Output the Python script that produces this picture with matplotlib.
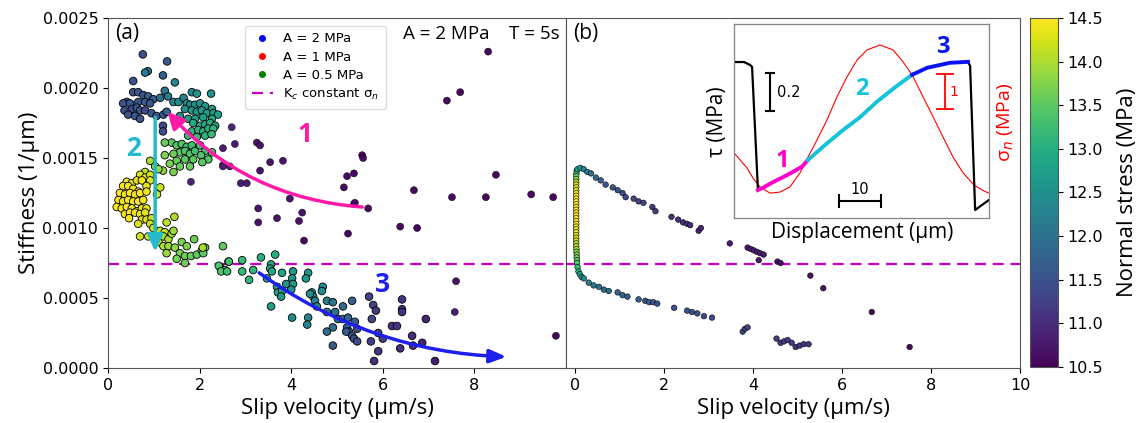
import matplotlib
matplotlib.use("Agg")
import numpy as np
import matplotlib.pyplot as plt
from matplotlib.lines import Line2D
from matplotlib.colors import Normalize
from matplotlib.cm import ScalarMappable

# panel (a): (slip velocity um/s, stiffness 1/um, normal stress MPa)
a_far = [(8.30, 0.00226, 10.6), (7.40, 0.00191, 10.6), (7.69, 0.00197, 10.6), (5.55, 0.00152, 10.6),
         (5.57, 0.00150, 10.6), (5.22, 0.00137, 10.6), (5.37, 0.00139, 10.6), (5.15, 0.00129, 10.6),
         (6.68, 0.00127, 10.6), (8.47, 0.00138, 10.6), (7.51, 0.00122, 10.6), (8.25, 0.00122, 10.6),
         (9.24, 0.00124, 10.6), (9.72, 0.00122, 10.6), (5.37, 0.00117, 10.6), (5.68, 0.00114, 10.6),
         (6.38, 0.00101, 10.6), (6.75, 0.00100, 10.6), (5.24, 0.00096, 10.6), (4.28, 0.00091, 10.6),
         (3.28, 0.00114, 10.7), (3.28, 0.00104, 10.7), (3.69, 0.00107, 10.7), (3.97, 0.00121, 10.7),
         (4.17, 0.00105, 10.7), (4.24, 0.00111, 10.7), (5.39, 0.00118, 10.6), (7.60, 0.00062, 10.7),
         (7.57, 0.00040, 10.8), (9.78, 0.00023, 10.6), (2.70, 0.00172, 10.9), (2.51, 0.00157, 10.8),
         (2.77, 0.00160, 10.8), (3.25, 0.00161, 10.7), (3.32, 0.00159, 10.7), (3.54, 0.00147, 10.7),
         (3.82, 0.00148, 10.7), (3.32, 0.00141, 10.7), (2.51, 0.00145, 10.8), (2.66, 0.00144, 10.8),
         (2.90, 0.00132, 10.8), (3.03, 0.00132, 10.8), (1.81, 0.00133, 10.9), (2.51, 0.00144, 10.8)]

a_navy = [(0.76, 0.00224, 11.5), (1.29, 0.00219, 11.6), (0.87, 0.00212, 12.0), (0.81, 0.00211, 12.1),
          (1.20, 0.00209, 11.7), (0.55, 0.00205, 11.5), (1.46, 0.00204, 12.3),
          (0.55, 0.00197, 11.5), (0.66, 0.00197, 11.6), (0.77, 0.00195, 11.5), (0.88, 0.00194, 11.7),
          (0.99, 0.00192, 11.6), (0.41, 0.00190, 11.4), (0.33, 0.00189, 11.5), (0.48, 0.00189, 11.6),
          (0.66, 0.00190, 11.5), (0.81, 0.00190, 11.7), (0.92, 0.00189, 11.6), (0.36, 0.00184, 11.5),
          (0.52, 0.00185, 11.4), (0.63, 0.00186, 11.6), (0.70, 0.00184, 11.5), (0.81, 0.00184, 11.4),
          (0.95, 0.00182, 11.6), (1.06, 0.00180, 11.5), (1.21, 0.00181, 11.6), (1.28, 0.00183, 11.8),
          (0.44, 0.00181, 11.5), (0.59, 0.00180, 11.6), (0.70, 0.00178, 11.5), (1.14, 0.00193, 12.0),
          (1.24, 0.00198, 12.1), (1.31, 0.00194, 12.2), (1.20, 0.00173, 11.4), (1.20, 0.00169, 11.4)]

a_teal = [(1.43, 0.00190, 12.3), (1.54, 0.00190, 12.4), (1.65, 0.00193, 12.3), (1.72, 0.00189, 12.5),
          (1.83, 0.00197, 12.4), (1.94, 0.00196, 12.6), (1.79, 0.00188, 12.4), (1.90, 0.00188, 12.5),
          (2.01, 0.00189, 12.6), (2.12, 0.00187, 12.7), (2.25, 0.00196, 12.5), (2.27, 0.00185, 12.7),
          (1.68, 0.00185, 12.5), (1.83, 0.00184, 12.6), (1.94, 0.00183, 12.6), (2.05, 0.00184, 12.7),
          (2.16, 0.00182, 12.8), (2.30, 0.00182, 12.7), (2.40, 0.00181, 12.8), (1.57, 0.00180, 12.5),
          (1.75, 0.00178, 12.7), (1.90, 0.00178, 12.8), (2.08, 0.00179, 12.8), (2.27, 0.00178, 12.9),
          (1.86, 0.00175, 12.9), (2.01, 0.00173, 13.0), (2.12, 0.00174, 12.9), (2.23, 0.00175, 13.0),
          (2.34, 0.00173, 12.9), (1.83, 0.00169, 13.1), (1.97, 0.00170, 13.0), (2.08, 0.00169, 13.1),
          (2.19, 0.00171, 13.0), (2.30, 0.00171, 13.1), (1.75, 0.00166, 13.2), (1.94, 0.00165, 13.2),
          (2.12, 0.00166, 13.1), (2.26, 0.00167, 13.2)]

a_green = [(1.39, 0.00161, 13.5), (1.50, 0.00159, 13.4), (1.61, 0.00160, 13.4), (1.72, 0.00158, 13.3),
           (1.83, 0.00159, 13.3), (1.57, 0.00154, 13.5), (1.68, 0.00155, 13.4), (1.43, 0.00153, 13.6),
           (1.79, 0.00153, 13.4), (1.90, 0.00155, 13.3), (2.01, 0.00159, 13.3), (2.12, 0.00155, 13.3),
           (1.24, 0.00152, 13.7), (1.50, 0.00148, 13.6), (1.68, 0.00149, 13.5), (1.86, 0.00149, 13.5),
           (2.03, 0.00152, 13.4), (2.19, 0.00149, 13.4), (0.92, 0.00148, 14.0), (1.03, 0.00144, 13.9),
           (1.35, 0.00146, 13.7), (1.57, 0.00144, 13.6), (1.79, 0.00144, 13.6), (2.06, 0.00147, 13.5),
           (1.20, 0.00141, 13.8), (0.81, 0.00140, 14.1), (1.10, 0.00142, 13.9), (1.43, 0.00140, 13.7),
           (1.24, 0.00161, 13.6), (2.27, 0.00154, 13.4)]

a_yellow = [(0.70, 0.00138, 14.3), (0.81, 0.00136, 14.3), (0.92, 0.00138, 14.2), (0.41, 0.00133, 14.4),
            (0.52, 0.00132, 14.4), (0.63, 0.00134, 14.3), (0.74, 0.00134, 14.4), (0.92, 0.00134, 14.3),
            (0.33, 0.00130, 14.5), (0.44, 0.00130, 14.4), (0.55, 0.00128, 14.4), (0.66, 0.00126, 14.5),
            (0.84, 0.00130, 14.3), (0.26, 0.00125, 14.5), (0.37, 0.00124, 14.4), (0.48, 0.00125, 14.5),
            (0.59, 0.00124, 14.4), (0.70, 0.00125, 14.5), (0.84, 0.00126, 14.4), (0.23, 0.00120, 14.5),
            (0.33, 0.00119, 14.4), (0.44, 0.00120, 14.5), (0.55, 0.00119, 14.4), (0.66, 0.00119, 14.5),
            (0.77, 0.00120, 14.4), (0.19, 0.00115, 14.5), (0.30, 0.00114, 14.4), (0.41, 0.00115, 14.5),
            (0.52, 0.00114, 14.4), (0.63, 0.00112, 14.5), (0.74, 0.00114, 14.4), (0.84, 0.00114, 14.3),
            (0.37, 0.00110, 14.4), (0.48, 0.00111, 14.5), (0.59, 0.00111, 14.4), (0.70, 0.00110, 14.4),
            (0.81, 0.00111, 14.3), (0.46, 0.00107, 14.4), (0.74, 0.00106, 14.3), (0.84, 0.00106, 14.3),
            (0.95, 0.00107, 14.2), (0.66, 0.00103, 14.3), (0.92, 0.00103, 14.2), (0.70, 0.00094, 14.2),
            (0.88, 0.00094, 14.2), (1.14, 0.00129, 14.2), (1.07, 0.00124, 14.2), (0.99, 0.00100, 14.2),
            (1.45, 0.00108, 14.0), (1.28, 0.00104, 14.1)]

a_transition = [(1.14, 0.00098, 14.1), (1.24, 0.00097, 14.1), (1.21, 0.00094, 14.0), (1.32, 0.00092, 14.0),
                (1.39, 0.00096, 14.0), (1.43, 0.00098, 13.9), (1.10, 0.00090, 14.1), (1.21, 0.00087, 14.0),
                (1.32, 0.00087, 13.9), (1.28, 0.00082, 13.9), (1.46, 0.00086, 13.8), (1.61, 0.00090, 13.7),
                (1.72, 0.00087, 13.7), (1.88, 0.00092, 13.6), (1.57, 0.00082, 13.7), (1.68, 0.00080, 13.6),
                (1.50, 0.00078, 13.7), (1.81, 0.00080, 13.6), (1.94, 0.00081, 13.5), (2.05, 0.00084, 13.5),
                (2.12, 0.00086, 13.5), (2.08, 0.00082, 13.5), (2.63, 0.00076, 13.3), (2.45, 0.00072, 13.4),
                (2.55, 0.00070, 13.3), (1.68, 0.00075, 13.6)]

a_lower = [(2.07, 0.00086, 14.0), (2.51, 0.00087, 13.5), (2.42, 0.00073, 13.4), (2.47, 0.00069, 13.4),
           (2.60, 0.00069, 13.3), (2.64, 0.00076, 13.3), (2.93, 0.00077, 13.2), (2.93, 0.00069, 13.2),
           (3.08, 0.00063, 13.1), (3.17, 0.00070, 13.1), (3.34, 0.00079, 13.0), (3.65, 0.00081, 13.0),
           (3.56, 0.00074, 12.9), (3.54, 0.00071, 12.9), (3.58, 0.00069, 12.9), (3.47, 0.00064, 12.9),
           (3.69, 0.00058, 12.8), (3.71, 0.00054, 12.8), (3.80, 0.00055, 12.7), (3.78, 0.00051, 12.7),
           (3.56, 0.00044, 12.8), (3.80, 0.00068, 12.8), (3.89, 0.00060, 12.7), (4.04, 0.00069, 12.7),
           (4.02, 0.00064, 12.6), (4.04, 0.00060, 12.6), (4.00, 0.00056, 12.6), (4.02, 0.00036, 12.4),
           (4.37, 0.00068, 12.6), (4.32, 0.00064, 12.6), (4.45, 0.00054, 12.4), (4.48, 0.00051, 12.4),
           (4.52, 0.00048, 12.3), (4.56, 0.00044, 12.3), (4.41, 0.00053, 12.4), (4.69, 0.00058, 12.4),
           (4.67, 0.00055, 12.4), (4.37, 0.00036, 12.3), (4.35, 0.00031, 12.3), (4.78, 0.00048, 12.2),
           (4.78, 0.00040, 12.1), (4.91, 0.00047, 12.1), (4.96, 0.00040, 12.0), (4.78, 0.00026, 11.9),
           (4.91, 0.00029, 11.9), (4.91, 0.00016, 11.6), (5.02, 0.00035, 11.9), (5.13, 0.00035, 11.8),
           (5.24, 0.00036, 11.8), (5.33, 0.00048, 11.7), (5.13, 0.00044, 11.9), (5.22, 0.00029, 11.7),
           (5.26, 0.00026, 11.6), (5.20, 0.00026, 11.6), (5.33, 0.00023, 11.5), (5.37, 0.00021, 11.5),
           (5.44, 0.00019, 11.4), (5.39, 0.00033, 11.6), (5.44, 0.00028, 11.5),
           (5.70, 0.00051, 11.3), (5.79, 0.00045, 11.3), (5.85, 0.00041, 11.2), (5.76, 0.00035, 11.3),
           (5.74, 0.00019, 11.2), (5.90, 0.00025, 11.2), (6.00, 0.00021, 11.2), (5.90, 0.00012, 11.1),
           (5.81, 0.00005, 11.0), (6.20, 0.00030, 11.1), (6.31, 0.00030, 11.1), (6.42, 0.00049, 11.1),
           (6.42, 0.00042, 11.1), (6.42, 0.00040, 11.1), (6.38, 0.00014, 11.0), (6.64, 0.00023, 11.0),
           (6.66, 0.00016, 11.0), (6.86, 0.00018, 10.9), (6.94, 0.00035, 10.9), (7.14, 0.00005, 10.8)]

# panel (b): model run, same quantities
b_column_k = [0.00141, 0.00139, 0.00137, 0.00135, 0.00133, 0.00131, 0.00129, 0.00127, 0.00125,
              0.00123, 0.00121, 0.00119, 0.00117, 0.00115, 0.00113, 0.00111, 0.00109, 0.00107,
              0.00105, 0.00103, 0.00101, 0.00099, 0.00097, 0.00095, 0.00093, 0.00091, 0.00089,
              0.00087, 0.00085, 0.00083, 0.00081, 0.00079, 0.00077, 0.00075]
b_column_v = [0.04, 0.035, 0.03, 0.03, 0.03, 0.03, 0.03, 0.03, 0.03, 0.03, 0.03, 0.03, 0.03, 0.03,
              0.03, 0.03, 0.03, 0.03, 0.03, 0.03, 0.03, 0.03, 0.03, 0.03, 0.03, 0.03, 0.03, 0.03,
              0.035, 0.035, 0.04, 0.04, 0.045, 0.05]
b_column_sn = [12.9, 13.2, 13.5, 13.8, 14.0, 14.2, 14.3, 14.4, 14.4, 14.5, 14.5, 14.5, 14.5, 14.5,
               14.5, 14.5, 14.5, 14.5, 14.5, 14.5, 14.4, 14.4, 14.4, 14.3, 14.3, 14.2, 14.1, 14.0,
               13.9, 13.8, 13.7, 13.6, 13.5, 13.4]

b_upper = [(0.06, 0.00142, 12.9), (0.12, 0.00143, 12.6), (0.20, 0.00142, 12.3), (0.28, 0.00140, 12.1),
           (0.36, 0.00139, 11.9), (0.47, 0.00136, 11.8), (0.58, 0.00134, 11.7), (0.69, 0.00131, 11.6),
           (0.85, 0.00129, 11.5), (0.96, 0.00127, 11.5), (1.07, 0.00125, 11.4), (1.14, 0.00122, 11.4),
           (1.32, 0.00121, 11.3), (1.43, 0.00119, 11.3), (1.54, 0.00118, 11.3), (1.74, 0.00115, 11.2),
           (1.81, 0.00112, 11.2), (2.17, 0.00108, 11.1), (2.32, 0.00106, 11.0), (2.43, 0.00104, 11.0),
           (2.52, 0.00103, 11.0), (2.59, 0.00102, 11.0), (2.78, 0.00098, 10.9), (2.83, 0.00100, 10.9),
           (3.48, 0.00089, 10.8), (3.88, 0.00086, 10.8), (3.95, 0.00085, 10.8), (4.02, 0.00084, 10.8),
           (4.09, 0.00083, 10.8), (4.16, 0.00082, 10.8), (4.24, 0.00081, 10.8), (4.13, 0.00077, 10.8),
           (4.55, 0.00076, 10.7), (4.62, 0.00075, 10.7), (5.29, 0.00066, 10.7), (5.58, 0.00057, 10.7),
           (6.67, 0.00040, 10.6), (7.52, 0.00015, 10.6)]

b_lower = [(0.06, 0.00072, 13.2), (0.08, 0.00069, 13.0), (0.11, 0.00067, 12.8), (0.15, 0.00065, 12.6),
           (0.20, 0.00064, 12.4), (0.31, 0.00061, 12.2), (0.42, 0.00059, 12.1), (0.54, 0.00058, 12.0),
           (0.65, 0.00056, 11.9), (0.76, 0.00055, 11.9), (0.96, 0.00054, 11.8), (1.07, 0.00052, 11.8),
           (1.18, 0.00051, 11.7), (1.43, 0.00049, 11.7), (1.58, 0.00048, 11.6), (1.67, 0.00047, 11.6),
           (1.76, 0.00047, 11.6), (1.85, 0.00046, 11.6), (2.23, 0.00043, 11.5), (2.52, 0.00041, 11.5),
           (2.63, 0.00040, 11.5), (2.75, 0.00039, 11.5), (2.90, 0.00037, 11.4), (3.08, 0.00036, 11.4),
           (3.77, 0.00026, 11.3), (3.82, 0.00028, 11.3), (3.88, 0.00029, 11.3), (4.53, 0.00021, 11.2),
           (4.62, 0.00018, 11.2), (4.70, 0.00019, 11.2), (4.78, 0.00020, 11.2), (4.87, 0.00018, 11.2),
           (4.96, 0.00015, 11.1), (5.05, 0.00016, 11.1), (5.14, 0.00017, 11.1), (5.25, 0.00017, 11.1)]

kc_const = 0.00074

# inset: displacement (um) vs shear stress tau (MPa, relative) and normal stress (MPa)
tau_black1 = ([0.0, 2.4, 3.8, 4.3, 5.7], [0.82, 0.82, 0.805, 0.795, 0.147])
tau_seg1 = ([5.7, 7.0, 9.3, 11.7, 14.0, 16.2, 17.6], [0.147, 0.16, 0.189, 0.215, 0.242, 0.27, 0.305])
tau_seg2 = ([17.6, 22.0, 26.0, 30.0, 34.0, 38.5, 42.4], [0.305, 0.39, 0.463, 0.53, 0.611, 0.69, 0.753])
tau_seg3 = ([42.4, 46.0, 51.4, 55.7], [0.753, 0.79, 0.816, 0.821])
tau_black2 = ([55.7, 56.2, 57.4, 58.5, 60.7], [0.821, 0.80, 0.042, 0.06, 0.095])
sig_disp = [0, 1.43, 3.1, 4.52, 6.19, 8.57, 10.95, 13.33, 15.71, 17.62, 19.76, 22.14, 24.52, 26.9,
            29.29, 31.67, 34.76, 37.86, 40.24, 42.38, 45.0, 47.38, 49.76, 52.14, 54.52, 57.14,
            59.52, 60.71]
sig_n = [11.55, 11.35, 11.12, 10.83, 10.58, 10.40, 10.43, 10.58, 10.98, 11.43, 11.92, 12.49, 13.15,
         13.72, 14.20, 14.49, 14.63, 14.49, 14.15, 13.78, 13.15, 12.58, 12.00, 11.43, 10.98, 10.63,
         10.46, 10.40]

OS = "Open Sans"
W, H = 1142, 423
cmap = plt.get_cmap("viridis")
norm = Normalize(10.5, 14.5)

fig = plt.figure(figsize=(W / 100, H / 100), dpi=100)
ax_a = fig.add_axes([108 / W, 55 / H, 458 / W, 350 / H])
ax_b = fig.add_axes([566 / W, 55 / H, 454 / W, 350 / H], sharey=ax_a)
cax = fig.add_axes([1030 / W, 56 / H, 28 / W, 349 / H])


def scat(ax, pts, s, lw):
    v = [p[0] for p in pts]
    k = [p[1] for p in pts]
    c = [p[2] for p in pts]
    ax.scatter(v, k, c=c, cmap=cmap, norm=norm, s=s, edgecolors="k", linewidths=lw, zorder=3)


scat(ax_a, a_far, 26, 0.3)
for grp in [a_navy, a_teal, a_green, a_yellow, a_transition, a_lower]:
    scat(ax_a, grp, 30, 0.6)

ax_b.scatter(b_column_v, b_column_k, c=b_column_sn, cmap=cmap, norm=norm, s=16,
             edgecolors="k", linewidths=0.4, zorder=3)
scat(ax_b, b_upper, 16, 0.4)
scat(ax_b, b_lower, 16, 0.4)

for ax in (ax_a, ax_b):
    ax.axhline(kc_const, color="#c400c4", ls="--", lw=1.6, dashes=(5, 3), zorder=2)
    for sp in ax.spines.values():
        sp.set_color("#555555")
    ax.set_xlabel("Slip velocity (µm/s)", fontsize=16, family=OS, labelpad=4)
    ax.tick_params(labelsize=11.5)

ax_a.set_xlim(0, 10)
ax_a.set_ylim(0, 0.0025)
ax_a.set_xticks([0, 2, 4, 6, 8])
ax_a.set_yticks([0, 0.0005, 0.001, 0.0015, 0.002, 0.0025])
ax_a.set_yticklabels([f"{t:.4f}" for t in [0, 0.0005, 0.001, 0.0015, 0.002, 0.0025]])
ax_a.set_ylabel("Stiffness (1/µm)", fontsize=16, family=OS, labelpad=2)

ax_b.set_xlim(-0.2, 10)
ax_b.set_xticks([0, 2, 4, 6, 8, 10])
ax_b.tick_params(axis="y", left=False, labelleft=False)

# annotations panel (a)
ax_a.text(0.015, 0.985, "(a)", transform=ax_a.transAxes, ha="left", va="top", fontsize=15, family=OS)
ax_b.text(0.015, 0.985, "(b)", transform=ax_b.transAxes, ha="left", va="top", fontsize=15, family=OS)
ax_a.text(0.985, 0.955, "A = 2 MPa    T = 5s", transform=ax_a.transAxes, ha="right", va="center",
          fontsize=13.5, family=OS)

handles = [Line2D([], [], ls="none", marker="o", color="blue", markersize=4),
           Line2D([], [], ls="none", marker="o", color="red", markersize=4),
           Line2D([], [], ls="none", marker="o", color="green", markersize=4),
           Line2D([], [], color="#c400c4", ls="--", lw=1.6, dashes=(5, 3))]
labels = ["A = 2 MPa", "A = 1 MPa", "A = 0.5 MPa", "K$_c$ constant σ$_n$"]
ax_a.legend(handles, labels, loc="upper left", bbox_to_anchor=(0.285, 0.997), fontsize=9.5,
            frameon=True, framealpha=1, edgecolor="#dddddd", handlelength=1.6, borderpad=0.5,
            labelspacing=0.4)

pink = "#ff1aa8"
cyan = "#25b9cc"
blue = "#1f1fee"
ax_a.annotate("", xy=(1.3, 0.00183), xytext=(5.55, 0.00115),
              arrowprops=dict(arrowstyle="-|>,head_length=1.0,head_width=0.5", color=pink, lw=2.5,
                              connectionstyle="arc3,rad=-0.2", shrinkA=0, shrinkB=0))
ax_a.text(4.3, 0.00167, "1", color=pink, fontsize=19, fontweight="bold", family=OS, ha="center", va="center")
ax_a.annotate("", xy=(1.03, 0.00083), xytext=(1.03, 0.00179),
              arrowprops=dict(arrowstyle="-|>,head_length=1.0,head_width=0.45", color=cyan, lw=2.5,
                              shrinkA=0, shrinkB=0))
ax_a.text(0.55, 0.00157, "2", color=cyan, fontsize=19, fontweight="bold", family=OS, ha="center", va="center")
ax_a.annotate("", xy=(8.7, 0.00008), xytext=(3.3, 0.00068),
              arrowprops=dict(arrowstyle="-|>,head_length=1.0,head_width=0.4", color=blue, lw=2.5,
                              connectionstyle="arc3,rad=0.15", shrinkA=0, shrinkB=0))
ax_a.text(6.0, 0.00060, "3", color=blue, fontsize=19, fontweight="bold", family=OS, ha="center", va="center")

# colorbar
cb = fig.colorbar(ScalarMappable(norm=norm, cmap=cmap), cax=cax)
cb.set_ticks([10.5, 11, 11.5, 12, 12.5, 13, 13.5, 14, 14.5])
cb.ax.tick_params(labelsize=11.5)
cb.outline.set_edgecolor("#555555")
cb.set_label("Normal stress (MPa)", fontsize=16, family=OS, labelpad=10)

# inset
ins = fig.add_axes([734 / W, (H - 218) / H, 255 / W, 194 / H])
ins.set_xlim(0, 60.7)
ins.set_ylim(0, 1.02)
ins.set_xticks([])
ins.set_yticks([])
for sp in ins.spines.values():
    sp.set_color("#888888")
ins2 = ins.twinx()
ins2.set_ylim(9.69, 15.23)
ins2.set_yticks([])
ins2.plot(sig_disp, sig_n, color="red", lw=0.8)
ins.plot(*tau_black1, color="black", lw=1.6)
ins.plot(*tau_black2, color="black", lw=1.6)
ins.plot(*tau_seg1, color="#ff00cc", lw=2.8, zorder=4)
ins.plot(*tau_seg2, color="#14c3d8", lw=2.8, zorder=4)
ins.plot(*tau_seg3, color="#0a14f0", lw=2.8, zorder=4)
ins.set_zorder(ins2.get_zorder() + 1)
ins.patch.set_visible(False)

# scale bars
ins.plot([8.6, 8.6], [0.563, 0.763], color="black", lw=1.5)
ins.plot([7.6, 9.6], [0.763, 0.763], color="black", lw=1.5)
ins.plot([7.6, 9.6], [0.563, 0.563], color="black", lw=1.5)
ins.text(10.3, 0.66, "0.2", fontsize=10.5, va="center", ha="left")
ins.plot([25, 35], [0.089, 0.089], color="black", lw=1.5)
ins.plot([25, 25], [0.06, 0.12], color="black", lw=1.5)
ins.plot([35, 35], [0.06, 0.12], color="black", lw=1.5)
ins.text(30, 0.11, "10", fontsize=10.5, va="bottom", ha="center")
ins2.plot([50.2, 50.2], [12.8, 13.8], color="red", lw=1.3)
ins2.plot([48.3, 52.1], [13.8, 13.8], color="red", lw=1.3)
ins2.plot([48.3, 52.1], [12.8, 12.8], color="red", lw=1.3)
ins2.text(51.3, 13.3, "1", color="red", fontsize=10, va="center", ha="left")

ins.text(11.5, 0.30, "1", color="#ff00cc", fontsize=17, fontweight="bold", family=OS, ha="center", va="center")
ins.text(30.5, 0.68, "2", color="#14c3d8", fontsize=17, fontweight="bold", family=OS, ha="center", va="center")
ins.text(49.8, 0.90, "3", color="#0a14f0", fontsize=17, fontweight="bold", family=OS, ha="center", va="center")

fig.text(718 / W, 1 - 122 / H, "τ (MPa)", rotation=90, fontsize=15, family=OS, ha="center", va="center")
fig.text(1006 / W, 1 - 122 / H, "σ$_n$ (MPa)", rotation=90, color="red", fontsize=14, family=OS,
         ha="center", va="center")
fig.text(862 / W, 1 - 232 / H, "Displacement (µm)", fontsize=15, family=OS, ha="center", va="center")

fig.savefig("out.png", dpi=100)
